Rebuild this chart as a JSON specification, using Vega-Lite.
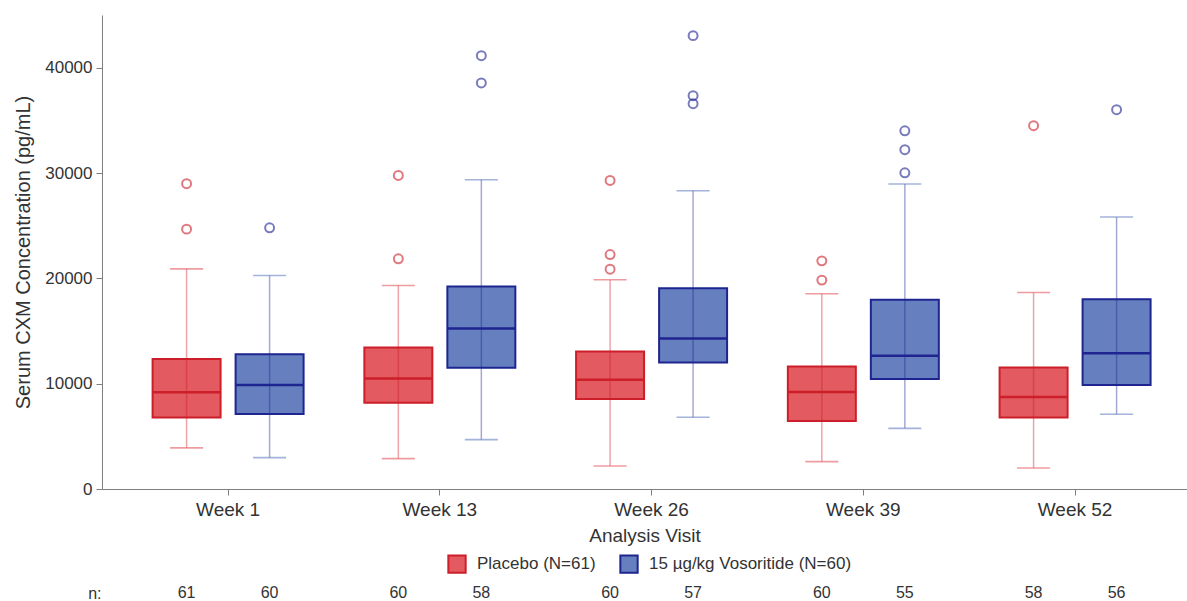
{
  "$schema": "https://vega.github.io/schema/vega-lite/v6.json",
  "background": "white",
  "padding": {"left": 13, "top": 15, "right": 2, "bottom": 0},
  "config": {
    "view": {"stroke": null},
    "font": "Liberation Sans",
    "axis": {"domainColor": "#7f7f7f", "tickColor": "#7f7f7f", "labelColor": "#333333", "titleColor": "#333333", "titleFontWeight": "normal", "grid": false}
  },
  "datasets": {
    "boxes": [
      {"visit": "Week 1", "group": "Placebo (N=61)", "lo": 3900, "q1": 6780, "med": 9190, "q3": 12350, "hi": 20900, "n": 61},
      {"visit": "Week 1", "group": "15 µg/kg Vosoritide (N=60)", "lo": 2980, "q1": 7130, "med": 9880, "q3": 12800, "hi": 20270, "n": 60},
      {"visit": "Week 13", "group": "Placebo (N=61)", "lo": 2880, "q1": 8200, "med": 10480, "q3": 13430, "hi": 19320, "n": 60},
      {"visit": "Week 13", "group": "15 µg/kg Vosoritide (N=60)", "lo": 4690, "q1": 11500, "med": 15230, "q3": 19230, "hi": 29360, "n": 58},
      {"visit": "Week 26", "group": "Placebo (N=61)", "lo": 2190, "q1": 8550, "med": 10360, "q3": 13050, "hi": 19860, "n": 60},
      {"visit": "Week 26", "group": "15 µg/kg Vosoritide (N=60)", "lo": 6810, "q1": 12000, "med": 14280, "q3": 19070, "hi": 28310, "n": 57},
      {"visit": "Week 39", "group": "Placebo (N=61)", "lo": 2600, "q1": 6460, "med": 9220, "q3": 11620, "hi": 18530, "n": 60},
      {"visit": "Week 39", "group": "15 µg/kg Vosoritide (N=60)", "lo": 5760, "q1": 10450, "med": 12640, "q3": 17960, "hi": 28950, "n": 55},
      {"visit": "Week 52", "group": "Placebo (N=61)", "lo": 2000, "q1": 6780, "med": 8740, "q3": 11530, "hi": 18650, "n": 58},
      {"visit": "Week 52", "group": "15 µg/kg Vosoritide (N=60)", "lo": 7090, "q1": 9880, "med": 12890, "q3": 18020, "hi": 25820, "n": 56}
    ],
    "outliers": [
      {"visit": "Week 1", "group": "Placebo (N=61)", "value": 28980},
      {"visit": "Week 1", "group": "Placebo (N=61)", "value": 24670},
      {"visit": "Week 1", "group": "15 µg/kg Vosoritide (N=60)", "value": 24800},
      {"visit": "Week 13", "group": "Placebo (N=61)", "value": 29770},
      {"visit": "Week 13", "group": "Placebo (N=61)", "value": 21850},
      {"visit": "Week 13", "group": "15 µg/kg Vosoritide (N=60)", "value": 41140},
      {"visit": "Week 13", "group": "15 µg/kg Vosoritide (N=60)", "value": 38545},
      {"visit": "Week 26", "group": "Placebo (N=61)", "value": 29290},
      {"visit": "Week 26", "group": "Placebo (N=61)", "value": 22260},
      {"visit": "Week 26", "group": "Placebo (N=61)", "value": 20870},
      {"visit": "Week 26", "group": "15 µg/kg Vosoritide (N=60)", "value": 43040},
      {"visit": "Week 26", "group": "15 µg/kg Vosoritide (N=60)", "value": 37340},
      {"visit": "Week 26", "group": "15 µg/kg Vosoritide (N=60)", "value": 36580},
      {"visit": "Week 39", "group": "Placebo (N=61)", "value": 21660},
      {"visit": "Week 39", "group": "Placebo (N=61)", "value": 19830},
      {"visit": "Week 39", "group": "15 µg/kg Vosoritide (N=60)", "value": 34010},
      {"visit": "Week 39", "group": "15 µg/kg Vosoritide (N=60)", "value": 32210},
      {"visit": "Week 39", "group": "15 µg/kg Vosoritide (N=60)", "value": 30020},
      {"visit": "Week 52", "group": "Placebo (N=61)", "value": 34490},
      {"visit": "Week 52", "group": "15 µg/kg Vosoritide (N=60)", "value": 36010}
    ]
  },
  "spacing": 8,
  "resolve": {"legend": {"fill": "independent", "stroke": "independent"}},
  "vconcat": [
    {
      "width": 1085,
      "height": 474,
      "encoding": {
        "x": {"field": "visit", "type": "nominal", "sort": ["Week 1", "Week 13", "Week 26", "Week 39", "Week 52"],
          "scale": {"paddingInner": 0, "paddingOuter": 0.062, "align": 0.77, "round": false},
          "axis": {"title": "Analysis Visit", "labelAngle": 0, "labelFontSize": 19, "titleFontSize": 19, "tickSize": 6, "labelPadding": 5, "titlePadding": 7}},
        "xOffset": {"field": "group", "type": "nominal", "sort": ["Placebo (N=61)", "15 µg/kg Vosoritide (N=60)"],
          "scale": {"paddingInner": 0.181, "paddingOuter": 0.366, "round": false}}
      },
      "layer": [
        {
          "data": {"name": "boxes"},
          "mark": {"type": "bar", "strokeWidth": 2},
          "encoding": {
            "y": {"field": "q1", "type": "quantitative", "title": "Serum CXM Concentration (pg/mL)",
              "scale": {"domain": [0, 45000], "nice": false, "zero": true},
              "axis": {"values": [0, 10000, 20000, 30000, 40000], "format": "d", "labelFontSize": 17, "titleFontSize": 20, "tickSize": 6, "labelPadding": 4, "titlePadding": 11}},
            "y2": {"field": "q3"},
            "fill": {"field": "group", "type": "nominal", "sort": ["Placebo (N=61)", "15 µg/kg Vosoritide (N=60)"],
              "scale": {"domain": ["Placebo (N=61)", "15 µg/kg Vosoritide (N=60)"], "range": ["#e35a60", "#6680bf"]},
              "legend": {"title": null, "orient": "none", "legendX": 345, "legendY": 539, "direction": "horizontal", "symbolType": "square", "symbolSize": 300, "symbolStrokeWidth": 2, "labelFontSize": 17, "labelColor": "#333333", "labelOffset": 10, "labelLimit": 0, "columnPadding": 20, "symbolOpacity": 1,
                "encode": {"symbols": {"update": {"opacity": {"value": 1}, "fillOpacity": {"value": 1}, "strokeOpacity": {"value": 1}}}}}},
            "stroke": {"field": "group", "type": "nominal", "sort": ["Placebo (N=61)", "15 µg/kg Vosoritide (N=60)"],
              "scale": {"domain": ["Placebo (N=61)", "15 µg/kg Vosoritide (N=60)"], "range": ["#cc1f29", "#1f2590"]},
              "legend": {"title": null, "orient": "none", "legendX": 345, "legendY": 539, "direction": "horizontal", "symbolType": "square", "symbolSize": 300, "symbolStrokeWidth": 2, "labelFontSize": 17, "labelColor": "#333333", "labelOffset": 10, "labelLimit": 0, "columnPadding": 20, "symbolOpacity": 1,
                "encode": {"symbols": {"update": {"opacity": {"value": 1}, "fillOpacity": {"value": 1}, "strokeOpacity": {"value": 1}}}}}}
          }
        },
        {
          "data": {"name": "boxes"},
          "mark": {"type": "rule", "strokeWidth": 1.5, "strokeOpacity": 0.4},
          "encoding": {
            "y": {"field": "lo", "type": "quantitative", "title": "Serum CXM Concentration (pg/mL)"},
            "y2": {"field": "hi"},
            "stroke": {"field": "group", "type": "nominal"}
          }
        },
        {
          "data": {"name": "boxes"},
          "mark": {"type": "tick", "size": 33, "thickness": 1.6, "opacity": 0.6},
          "encoding": {
            "y": {"field": "lo", "type": "quantitative", "title": "Serum CXM Concentration (pg/mL)"},
            "fill": {"field": "group", "type": "nominal"}
          }
        },
        {
          "data": {"name": "boxes"},
          "mark": {"type": "tick", "size": 33, "thickness": 1.6, "opacity": 0.6},
          "encoding": {
            "y": {"field": "hi", "type": "quantitative", "title": "Serum CXM Concentration (pg/mL)"},
            "fill": {"field": "group", "type": "nominal"}
          }
        },
        {
          "data": {"name": "boxes"},
          "mark": {"type": "bar", "strokeWidth": 2.5, "fillOpacity": 0},
          "encoding": {
            "y": {"field": "med", "type": "quantitative", "title": "Serum CXM Concentration (pg/mL)"},
            "y2": {"field": "med"},
            "stroke": {"field": "group", "type": "nominal"}
          }
        },
        {
          "data": {"name": "outliers"},
          "mark": {"type": "point", "shape": "circle", "filled": false, "size": 80, "strokeWidth": 2, "strokeOpacity": 0.85},
          "encoding": {
            "y": {"field": "value", "type": "quantitative", "title": "Serum CXM Concentration (pg/mL)"},
            "stroke": {"field": "group", "type": "nominal"}
          }
        }
      ]
    },
    {
      "width": 1085,
      "height": 16,
      "data": {"name": "boxes"},
      "mark": {"type": "text", "fontSize": 16, "color": "#333333"},
      "encoding": {
        "x": {"field": "visit", "type": "nominal", "sort": ["Week 1", "Week 13", "Week 26", "Week 39", "Week 52"],
          "scale": {"paddingInner": 0, "paddingOuter": 0.062, "align": 0.77, "round": false}, "axis": null},
        "xOffset": {"field": "group", "type": "nominal", "sort": ["Placebo (N=61)", "15 µg/kg Vosoritide (N=60)"],
          "scale": {"paddingInner": 0.181, "paddingOuter": 0.366, "round": false}},
        "y": {"datum": "n:", "type": "nominal", "axis": {"title": null, "domain": false, "ticks": false, "labelFontSize": 16, "labelPadding": 1, "labelColor": "#333333"}},
        "text": {"field": "n", "type": "quantitative"}
      }
    }
  ]
}
